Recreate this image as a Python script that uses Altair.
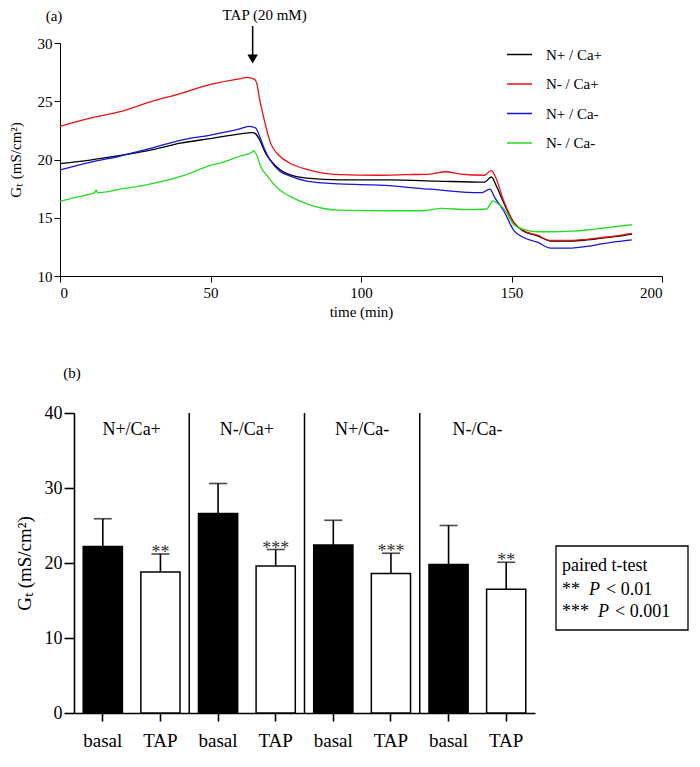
import altair as alt
import pandas as pd

FONT = "Liberation Serif"

# ---------------- Panel (a): time courses ----------------
series_names = ["N+ / Ca+", "N- / Ca+", "N+ / Ca-", "N- / Ca-"]
series_colors = ["#000000", "#ee1111", "#1414e6", "#22dd22"]

black_t = [0, 10, 20, 30, 40, 50, 60, 64, 65, 66.3, 68, 69.7, 73, 76.3, 82, 93, 110, 125, 141, 143.3,
           145, 147.4, 150.8, 154, 158.6, 163, 170, 175, 180, 185, 190]
black_v = [19.65, 19.95, 20.35, 20.8, 21.4, 21.8, 22.2, 22.3, 22.2, 21.7, 20.7, 20.0, 19.15, 18.7, 18.4,
           18.25, 18.25, 18.15, 18.05, 18.5, 17.7, 16.3, 14.55, 13.85, 13.45, 13.0, 13.0, 13.1, 13.25, 13.4, 13.6]

red_t = [0, 10, 20, 30, 40, 50, 60, 62, 64.5, 65.3, 66.3, 68, 69.7, 73, 76.3, 82, 93, 106, 115, 123, 128,
         133, 141, 143.3, 144.5, 147.4, 150.8, 154, 158.6, 163, 170, 175, 180, 185, 190]
red_v = [22.85, 23.55, 24.1, 24.95, 25.65, 26.45, 26.95, 27.05, 26.9, 26.6, 25.2, 23.25, 21.6, 20.3, 19.7,
         19.15, 18.7, 18.65, 18.7, 18.75, 18.95, 18.75, 18.65, 19.05, 18.6, 16.45, 14.6, 13.9, 13.5, 13.05,
         13.05, 13.15, 13.3, 13.45, 13.65]

blue_t = [0, 10, 20, 30, 40, 50, 60, 63, 65, 66.3, 68, 69.7, 73, 76.3, 82, 93, 106, 123, 140, 142.8, 144.5,
          147.4, 150.8, 154, 158.6, 163, 170, 175, 180, 185, 190]
blue_v = [19.1, 19.75, 20.3, 20.95, 21.65, 22.1, 22.65, 22.85, 22.7, 22.0, 20.85, 20.0, 19.0, 18.6, 18.15,
          17.9, 17.8, 17.45, 17.15, 17.45, 16.7, 15.6, 13.9, 13.3, 12.9, 12.4, 12.4, 12.55, 12.75, 12.95, 13.1]

green_t = [0, 5, 11.5, 12, 12.5, 20, 31, 42, 50, 54, 60, 63.6, 64.4, 65.5, 66.5, 69.3, 72.7, 76, 82, 93,
           109, 120, 127, 135, 141.7, 143.9, 145.5, 147.4, 150.8, 154, 158.6, 163, 170, 175, 180, 185, 190]
green_v = [16.4, 16.75, 17.15, 17.4, 17.15, 17.45, 17.95, 18.7, 19.5, 19.75, 20.3, 20.6, 20.75, 20.3, 19.5,
           18.45, 17.45, 16.9, 16.2, 15.65, 15.6, 15.6, 15.8, 15.7, 15.75, 16.45, 16.2, 15.8, 14.4, 14.0, 13.8,
           13.8, 13.85, 13.95, 14.1, 14.25, 14.4]

tap_time = 64

rows = []
for name, ts, vs in zip(series_names, [black_t, red_t, blue_t, green_t],
                        [black_v, red_v, blue_v, green_v]):
    for i, (t, v) in enumerate(zip(ts, vs)):
        rows.append({"series": name, "time": t, "gt": v, "idx": i})
lines_df = pd.DataFrame(rows)

TOP_W, TOP_H = 602, 233

x_top = alt.X("time:Q", scale=alt.Scale(domain=[0, 200], nice=False),
              axis=alt.Axis(values=[0, 50, 100, 150, 200], title="time (min)", tickSize=6,
                            labelPadding=3, titlePadding=4, grid=False, labelFont=FONT,
                            titleFont=FONT, labelFontSize=15, titleFontSize=15))
y_top = alt.Y("gt:Q", scale=alt.Scale(domain=[10, 30], nice=False, zero=False),
              axis=alt.Axis(values=[10, 15, 20, 25, 30], title="Gₜ (mS/cm²)", tickSize=6,
                            labelPadding=2, titlePadding=14, grid=False, labelFont=FONT,
                            titleFont=FONT, labelFontSize=15, titleFontSize=15))

lines = alt.Chart(lines_df).mark_line(strokeWidth=1.3, interpolate="monotone").encode(
    x=x_top, y=y_top,
    color=alt.Color("series:N", scale=alt.Scale(domain=series_names, range=series_colors),
                    legend=alt.Legend(orient="none", legendX=446, legendY=-2, title=None,
                                      symbolType="stroke", symbolSize=625, symbolStrokeWidth=1.5,
                                      labelFontSize=15, labelFont=FONT, labelOffset=13,
                                      rowPadding=7.5, labelColor="black")),
    detail="series:N",
    order="idx:Q",
)

arrow_shaft = alt.Chart().mark_rule(color="black", strokeWidth=1.5).encode(
    x=alt.datum(tap_time), y=alt.value(-17), y2=alt.value(12))
arrow_head = alt.Chart().mark_point(shape="triangle-down", filled=True, color="black",
                                    size=110, opacity=1).encode(
    x=alt.datum(tap_time), y=alt.value(16))
tap_label = alt.Chart().mark_text(font=FONT, fontSize=15, align="center", baseline="middle",
                                  dx=12).encode(
    x=alt.datum(tap_time), y=alt.value(-28), text=alt.value("TAP (20 mM)"))
label_a = alt.Chart().mark_text(font=FONT, fontSize=15, align="center", baseline="middle").encode(
    x=alt.value(-6), y=alt.value(-27), text=alt.value("(a)"))
# invisible anchor that fixes the left edge of the figure
spacer_a = alt.Chart().mark_rule(strokeOpacity=0, strokeWidth=1).encode(
    x=alt.value(-52), x2=alt.value(-40), y=alt.value(0))

top = alt.layer(lines, arrow_shaft, arrow_head, tap_label, label_a, spacer_a).properties(
    width=TOP_W, height=TOP_H)

# ---------------- Panel (b): bar chart ----------------
groups = ["N+/Ca+", "N-/Ca+", "N+/Ca-", "N-/Ca-"]
conditions = ["basal", "TAP"]
gt_mean = [22.2, 18.8, 26.6, 19.6, 22.4, 18.6, 19.8, 16.5]
gt_sd = [3.7, 2.4, 4.0, 2.2, 3.3, 2.7, 5.2, 3.6]
significance = ["", "**", "", "***", "", "***", "", "**"]

keys = [g + "|" + c for g in groups for c in conditions]
bar_df = pd.DataFrame({
    "key": keys,
    "group": [g for g in groups for _ in conditions],
    "condition": [c for _ in groups for c in conditions],
    "mean": gt_mean,
    "sd": gt_sd,
    "sig": significance,
})
sep_df = pd.DataFrame({"key": [g + "|basal" for g in groups[1:]]})
grp_df = pd.DataFrame({"key": [g + "|basal" for g in groups], "group": groups})

SHIFT = 14            # panel (b) axis sits a little to the right of panel (a)'s
BOT_W, BOT_H = 461 + SHIFT, 300
y_max = 40

x_bot = alt.X("key:N", sort=keys,
              scale=alt.Scale(domain=keys, range=[SHIFT, BOT_W], paddingInner=0, paddingOuter=0),
              axis=alt.Axis(title=None, labelExpr="split(datum.label, '|')[1]", labelAngle=0,
                            tickSize=8, labelPadding=10, labelFontSize=19, labelFont=FONT,
                            domainWidth=1.6, tickWidth=1.6))
y_scale_bot = alt.Scale(domain=[0, y_max], nice=False)

bars = alt.Chart(bar_df).mark_bar(width={"band": 0.68}, stroke="black", strokeWidth=1.5).encode(
    x=x_bot,
    y=alt.Y("mean:Q", scale=y_scale_bot,
            axis=alt.Axis(values=[0, 10, 20, 30, 40], title="Gₜ (mS/cm²)", tickSize=10,
                          labelPadding=2, titlePadding=10, labelFontSize=18, titleFontSize=19,
                          labelFont=FONT, titleFont=FONT, offset=-SHIFT,
                          domainWidth=1.6, tickWidth=1.6, grid=False)),
    fill=alt.Fill("condition:N", scale=alt.Scale(domain=conditions, range=["black", "white"]),
                  legend=None),
)
err_base = alt.Chart(bar_df).transform_calculate(upper="datum.mean + datum.sd")
err_rule = err_base.mark_rule(color="black", strokeWidth=1.6).encode(
    x=alt.X("key:N", sort=keys), y=alt.Y("mean:Q", scale=y_scale_bot), y2="upper:Q")
err_cap = err_base.mark_tick(color="black", thickness=1.6, size=18, orient="horizontal").encode(
    x=alt.X("key:N", sort=keys), y=alt.Y("upper:Q", scale=y_scale_bot))
stars = err_base.mark_text(font=FONT, fontSize=18, color="#333333", baseline="alphabetic",
                           dy=4).encode(
    x=alt.X("key:N", sort=keys), y=alt.Y("upper:Q", scale=y_scale_bot), text="sig:N")
separators = alt.Chart(sep_df).mark_rule(color="black", strokeWidth=1.5).encode(
    x=alt.X("key:N", sort=keys, bandPosition=0), y=alt.datum(y_max), y2=alt.datum(0))
group_labels = alt.Chart(grp_df).mark_text(font=FONT, fontSize=18, baseline="middle").encode(
    x=alt.X("key:N", sort=keys, bandPosition=1), y=alt.value(17), text="group:N")
label_b = alt.Chart().mark_text(font=FONT, fontSize=15, align="center", baseline="middle").encode(
    x=alt.value(12), y=alt.value(-40), text=alt.value("(b)"))

box = alt.Chart().mark_rect(fill="white", stroke="black", strokeWidth=1.3).encode(
    x=alt.value(496), x2=alt.value(628), y=alt.value(133), y2=alt.value(217))
box_texts = [
    ("paired t-test", 502, 158, "normal"),
    ("**", 502, 182, "normal"), ("P", 529, 182, "italic"), ("< 0.01", 546, 182, "normal"),
    ("***", 502, 204, "normal"), ("P", 538, 204, "italic"), ("< 0.001", 555, 204, "normal"),
]
box_layers = [
    alt.Chart().mark_text(font=FONT, fontSize=18, align="left", baseline="alphabetic",
                          fontStyle=style).encode(x=alt.value(xp), y=alt.value(yp), text=alt.value(txt))
    for txt, xp, yp, style in box_texts
]

bottom = alt.layer(bars, err_rule, err_cap, stars, separators, group_labels, label_b, box,
                   *box_layers).properties(width=BOT_W, height=BOT_H)

chart = alt.concat(top, bottom, columns=1, spacing=47).properties(
    padding={"left": 0, "top": 0, "right": 0, "bottom": 0}
).configure_view(stroke=None).configure_axis(
    labelFont=FONT, titleFont=FONT, titleFontWeight="normal",
    labelColor="black", titleColor="black", domainColor="black", tickColor="black",
).configure_text(color="black")

chart.save("out.html", embed_options={"renderer": "svg", "actions": False})
